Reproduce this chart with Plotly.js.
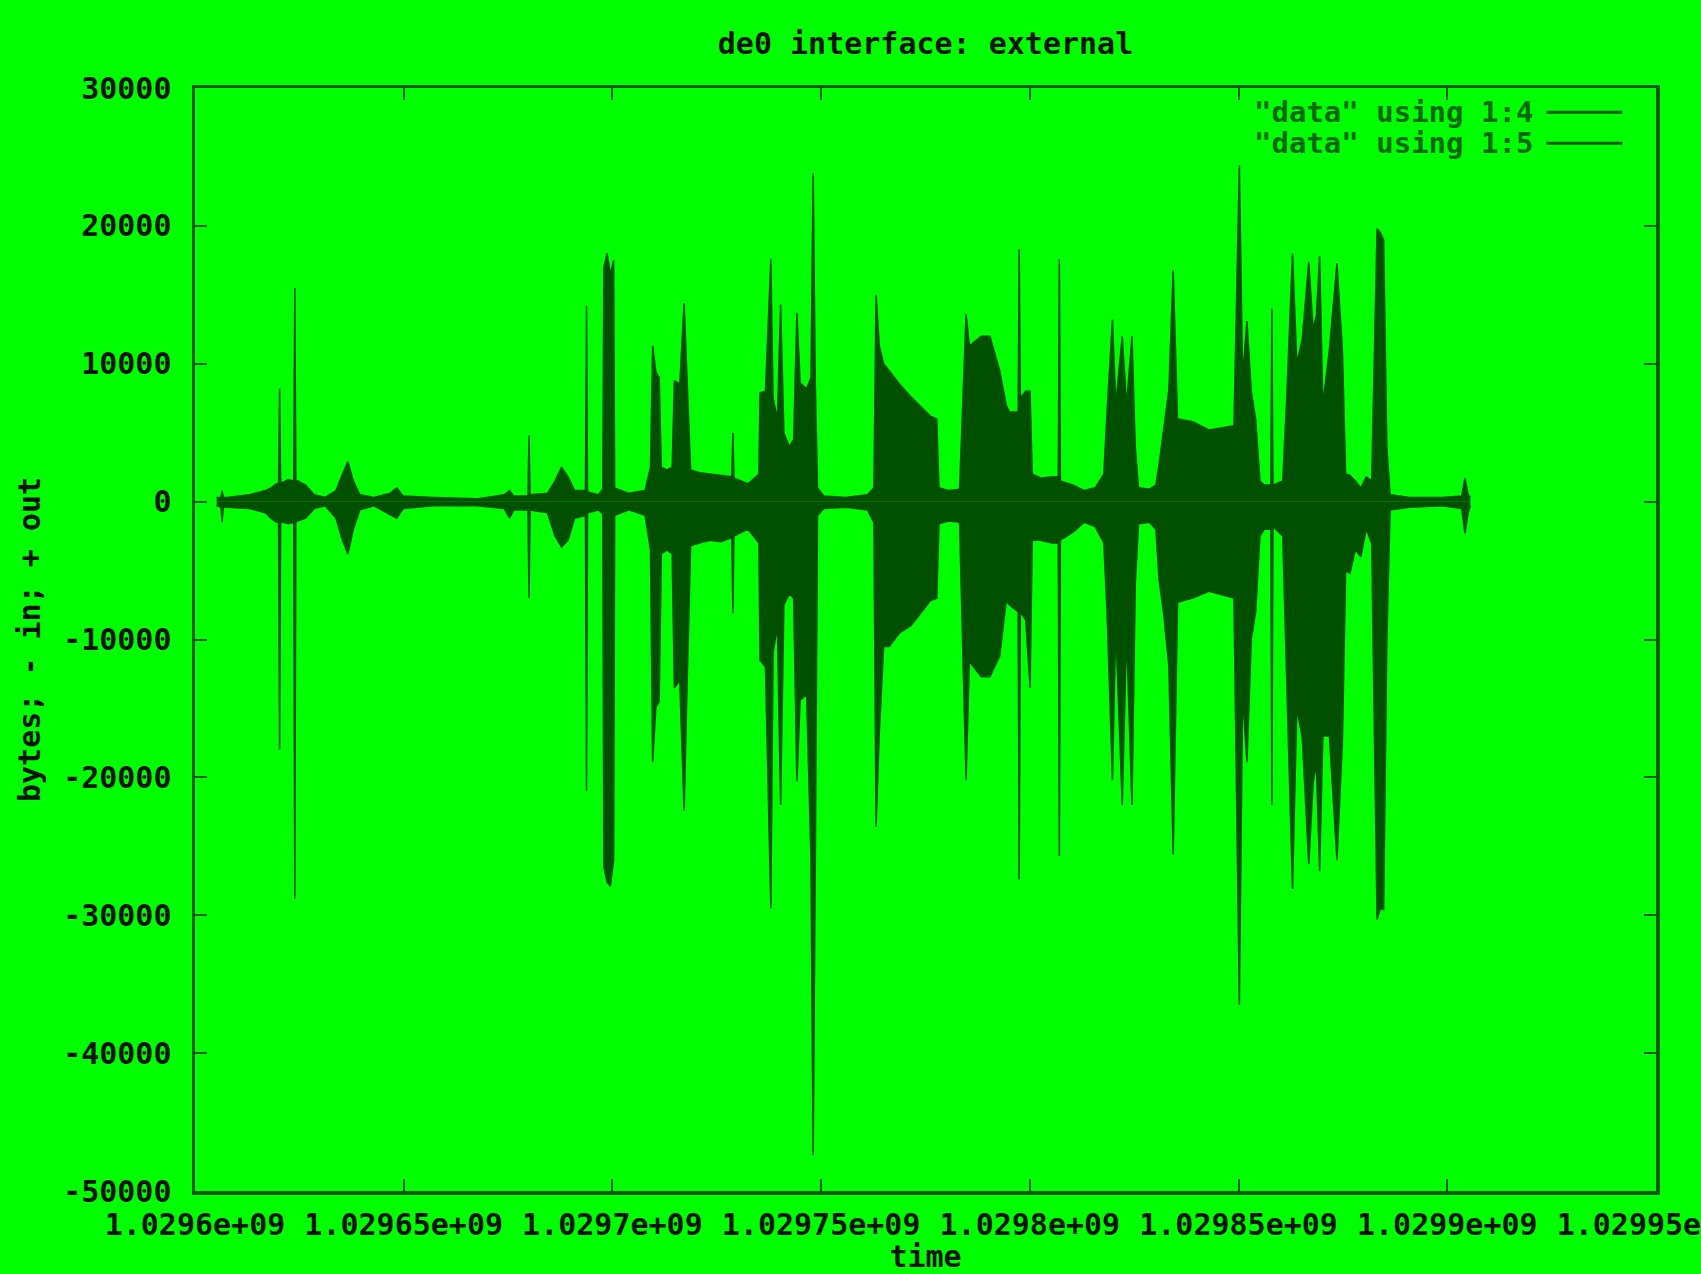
<!DOCTYPE html>
<html>
<head>
<meta charset="utf-8">
<title>de0 interface: external</title>
<script src="https://cdn.plot.ly/plotly-3.0.1.min.js"></script>
<style>
  html, body { margin: 0; padding: 0; background: #00ff00; }
  #chart { width: 1701px; height: 1274px; }
</style>
</head>
<body>
<div id="chart"></div>
<script>
// Sample timestamps (unix seconds) for the de0 external interface log
const sampleTimes = [
  1029605196, 1029606236, 1029606495, 1029606755, 1029607794, 1029612990, 1029616887, 1029618186,
  1029619485, 1029620014, 1029620264, 1029620514, 1029621044, 1029622343, 1029623652, 1029623902,
  1029624152, 1029624681, 1029626500, 1029628578, 1029631176, 1029633774, 1029635333, 1029636632,
  1029637931, 1029639490, 1029642867, 1029646764, 1029648323, 1029649882, 1029657156, 1029667548,
  1029674043, 1029675342, 1029676381, 1029679768, 1029680018, 1029680268, 1029684435, 1029686254,
  1029687812, 1029689371, 1029690930, 1029693538, 1029693788, 1029694038, 1029696646, 1029697695,
  1029697945, 1029698724, 1029699503, 1029700283, 1029700533, 1029703920, 1029707817, 1029709116,
  1029709636, 1029710415, 1029711194, 1029711714, 1029713013, 1029714312, 1029714832, 1029716131,
  1029717170, 1029717949, 1029718729, 1029720807, 1029723405, 1029726003, 1029728611, 1029728861,
  1029729111, 1029732498, 1029735096, 1029735356, 1029736655, 1029737954, 1029738473, 1029739513,
  1029740292, 1029741071, 1029742370, 1029743410, 1029744189, 1029744968, 1029746527, 1029747566,
  1029748086, 1029748606, 1029749125, 1029750684, 1029755880, 1029761076, 1029762635, 1029763154,
  1029763934, 1029764973, 1029766272, 1029768870, 1029771468, 1029774066, 1029776144, 1029777703,
  1029778223, 1029780561, 1029783159, 1029784718, 1029785497, 1029788355, 1029790433, 1029792772,
  1029794330, 1029795110, 1029797198, 1029797448, 1029797698, 1029799007, 1029800046, 1029800566,
  1029802644, 1029805242, 1029806811, 1029807061, 1029807311, 1029810438, 1029813036, 1029815634,
  1029817712, 1029818492, 1029819791, 1029820570, 1029822129, 1029823168, 1029824467, 1029825247,
  1029826026, 1029828624, 1029830183, 1029830962, 1029832001, 1029833300, 1029834340, 1029835379,
  1029839016, 1029842913, 1029846810, 1029848888, 1029850187, 1029850967, 1029852006, 1029853045,
  1029854084, 1029855124, 1029856163, 1029857731, 1029857981, 1029858231, 1029860579, 1029861619,
  1029862918, 1029863957, 1029865256, 1029866815, 1029867854, 1029868633, 1029869413, 1029870192,
  1029871751, 1029873569, 1029874868, 1029875648, 1029876687, 1029877986, 1029879285, 1029880584,
  1029881883, 1029883182, 1029883961, 1029884741, 1029885520, 1029886300, 1029890976, 1029898770,
  1029903446, 1029904226, 1029905005, 1029905525
];

// Column 4: bytes out per sample (plotted positive)
const bytesOut = [
  300, 300, 800, 300, 300, 500, 800, 1000,
  1300, 1300, 8200, 1400, 1400, 1600, 1500, 15500,
  1500, 1500, 1200, 500, 300, 800, 2000, 2900,
  1500, 500, 300, 600, 1000, 400, 300, 200,
  500, 800, 400, 400, 4800, 500, 600, 1500,
  2500, 1800, 800, 800, 14200, 700, 500, 900,
  17000, 18000, 16500, 17500, 1000, 600, 800, 2500,
  11300, 9400, 9000, 2500, 2300, 2500, 8800, 8500,
  14400, 8000, 2300, 2100, 2000, 1900, 1800, 5000,
  1700, 1300, 2000, 7900, 8000, 17600, 7500, 6000,
  14300, 5000, 4000, 4500, 13700, 8600, 8200, 9000,
  23800, 8500, 1000, 400, 300, 500, 1000, 15000,
  11300, 10000, 9500, 8500, 7600, 6800, 6200, 6000,
  1000, 800, 900, 13600, 11300, 12000, 12000, 9500,
  7000, 6500, 6500, 18300, 7500, 8000, 8000, 2000,
  1700, 1800, 1800, 17600, 1500, 1200, 800, 1000,
  2000, 6500, 13200, 7000, 12000, 7000, 12000, 4000,
  1000, 900, 1200, 2700, 5000, 8100, 16800, 6000,
  5800, 5200, 5400, 5500, 24400, 9000, 13100, 8000,
  6000, 1500, 1200, 1200, 14000, 1200, 1500, 8100,
  18000, 10000, 11800, 17400, 12500, 13500, 17800, 7000,
  11000, 17300, 11000, 2000, 1900, 1500, 1000, 1800,
  1500, 19800, 19500, 19000, 4000, 500, 300, 300,
  400, 1700, 500, 300
];

// Column 5: bytes in per sample (plotted negative)
const bytesIn = [
  -300, -400, -1500, -400, -400, -500, -800, -1200,
  -1500, -1500, -18000, -1500, -1500, -1600, -1500, -28800,
  -1400, -1400, -1200, -500, -300, -1200, -2800, -3800,
  -2000, -600, -300, -900, -1200, -500, -300, -300,
  -500, -1200, -600, -600, -7000, -600, -800, -2500,
  -3300, -2800, -1200, -1000, -21000, -800, -600, -900,
  -26500, -27600, -27900, -26000, -1000, -600, -1000, -3500,
  -18900, -14900, -14500, -3800, -3500, -3800, -13500, -13000,
  -22400, -12500, -3200, -3000, -2800, -2900, -2600, -8100,
  -2500, -2000, -3000, -11500, -12000, -29500, -11000, -9000,
  -22000, -7500, -6700, -7000, -20300, -14400, -14000, -26000,
  -47400, -26000, -1000, -500, -400, -600, -1500, -23600,
  -16700, -10500, -10500, -9500, -9000, -8000, -7200, -7000,
  -1600, -1400, -1500, -20200, -11600, -12700, -12700, -11200,
  -7200, -7500, -8000, -27400, -8000, -8600, -13500, -2800,
  -2800, -3000, -3000, -25700, -2800, -2200, -1500, -1800,
  -3000, -8000, -20200, -9000, -22000, -9500, -22000, -6000,
  -1600, -1500, -2000, -5700, -8000, -11900, -25600, -7300,
  -7000, -6500, -6800, -7000, -36500, -14000, -18900, -10000,
  -8000, -2500, -2000, -2000, -22000, -1800, -2500, -13100,
  -28100, -15000, -17100, -26300, -20400, -19000, -26800, -17000,
  -17000, -26000, -17500, -5000, -5200, -3500, -4000, -2000,
  -3000, -30300, -29500, -29600, -10000, -600, -400, -300,
  -500, -2300, -800, -300
];

// Axis ticks, written the way gnuplot prints them
const xTickValues = [1029600000, 1029650000, 1029700000, 1029750000, 1029800000, 1029850000, 1029900000, 1029950000];
const xTickLabels = ['1.0296e+09', '1.02965e+09', '1.0297e+09', '1.02975e+09', '1.0298e+09', '1.02985e+09', '1.0299e+09', '1.02995e+09'];
const yTickValues = [30000, 20000, 10000, 0, -10000, -20000, -30000, -40000, -50000];
const yTickLabels = ['30000', '20000', '10000', '0', '-10000', '-20000', '-30000', '-40000', '-50000'];

const seriesNames = ['"data" using 1:4', '"data" using 1:5'];

const BG = '#00ff00';
const INK = '#005000';
const FRAME = '#005c00';
const TEXT = '#001400';
const FONT = '"DejaVu Sans Mono", "Liberation Mono", monospace';
const textFont = (color, size, weight) => ({
  family: FONT, size: size || 30, color: color || TEXT, weight: weight || 'bold'
});

const traces = [bytesOut, bytesIn].map((vals, i) => ({
  type: 'scatter',
  mode: 'lines',
  name: seriesNames[i],
  x: sampleTimes,
  y: vals,
  fill: 'tozeroy',
  fillcolor: INK,
  line: { color: INK, width: 1.5 },
  showlegend: false,
  hoverinfo: 'x+y'
}));

const axisCommon = {
  showgrid: false,
  zeroline: false,
  showline: true,
  linecolor: FRAME,
  linewidth: 3.5,
  mirror: 'allticks',
  ticks: 'inside',
  ticklen: 12,
  tickwidth: 2,
  tickcolor: FRAME,
  tickmode: 'array',
  ticklabeloverflow: 'allow',
  tickfont: textFont()
};

// gnuplot-style key: label on the left, line sample on the right
const keyRowsY = [0.978, 0.950];
const annotations = seriesNames.map((name, i) => ({
  xref: 'paper', yref: 'paper',
  x: 0.917, y: keyRowsY[i],
  xanchor: 'right', yanchor: 'middle',
  text: name,
  showarrow: false,
  font: textFont('#006800', 29, 'bold')
}));
const shapes = seriesNames.map((name, i) => ({
  type: 'line',
  xref: 'paper', yref: 'paper',
  x0: 0.925, x1: 0.977,
  y0: keyRowsY[i], y1: keyRowsY[i],
  line: { color: FRAME, width: 3 }
}));

const layout = {
  width: 1701,
  height: 1274,
  paper_bgcolor: BG,
  plot_bgcolor: BG,
  margin: { l: 195, r: 45, t: 88, b: 83, pad: 0 },
  showlegend: false,
  title: {
    text: 'de0 interface: external',
    font: textFont(),
    xref: 'paper', x: 0.5, xanchor: 'center',
    yref: 'container', y: 0.966, yanchor: 'middle'
  },
  xaxis: Object.assign({}, axisCommon, {
    range: [1029600000, 1029950000],
    tickvals: xTickValues,
    ticktext: xTickLabels,
    ticklabelstandoff: 4,
    title: { text: 'time', font: textFont(), standoff: 35 }
  }),
  yaxis: Object.assign({}, axisCommon, {
    range: [-50000, 30000],
    tickvals: yTickValues,
    ticktext: yTickLabels,
    ticklabelstandoff: 14,
    title: { text: 'bytes; - in; + out', font: textFont(), standoff: 14 }
  }),
  annotations: annotations,
  shapes: shapes
};

Plotly.newPlot('chart', traces, layout, { staticPlot: true, displayModeBar: false });
</script>
</body>
</html>
